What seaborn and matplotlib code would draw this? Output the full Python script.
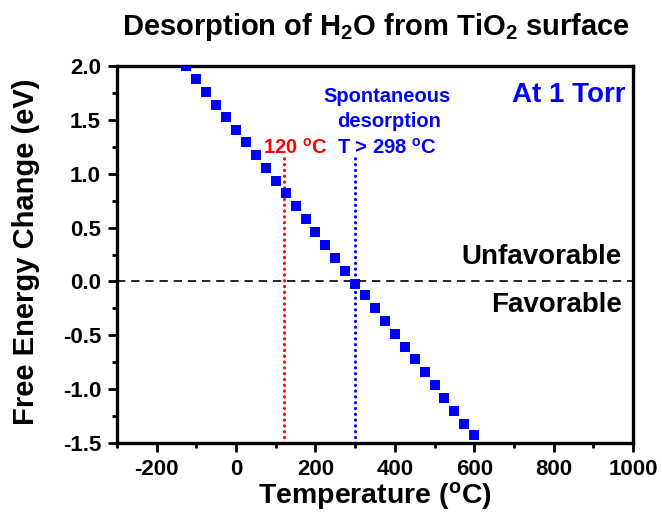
import numpy as np
import pandas as pd
import matplotlib
matplotlib.use("Agg")
import matplotlib.pyplot as plt
import seaborn as sns

# ---- data ----
temperature = [-125, -100, -75, -50, -25, 0, 25, 50, 75, 100,
               125, 150, 175, 200, 225, 250, 275, 300, 325, 350,
               375, 400, 425, 450, 475, 500, 525, 550, 575, 600]
free_energy = [2.00, 1.88, 1.76, 1.64, 1.53, 1.41, 1.29, 1.17, 1.05, 0.93,
               0.82, 0.70, 0.58, 0.46, 0.34, 0.22, 0.10, -0.02, -0.13, -0.25,
               -0.37, -0.49, -0.61, -0.72, -0.84, -0.96, -1.08, -1.20, -1.32, -1.43]
vline_temps = [120, 300]
vline_colors = ["#FF0000", "#0000FF"]
vline_top = 1.15
x_ticks = [-200, 0, 200, 400, 600, 800, 1000]
y_ticks = [-1.5, -1.0, -0.5, 0.0, 0.5, 1.0, 1.5, 2.0]
x_limits = (-300, 1000)
y_limits = (-1.5, 2.0)

df = pd.DataFrame({"T": temperature, "G": free_energy})

sns.set_style("ticks")
plt.rcParams["font.family"] = ["Liberation Sans", "DejaVu Sans"]
plt.rcParams["font.weight"] = "bold"
plt.rcParams["text.color"] = "black"
plt.rcParams["axes.labelcolor"] = "black"
plt.rcParams["xtick.color"] = "black"
plt.rcParams["ytick.color"] = "black"
plt.rcParams["mathtext.fontset"] = "custom"
plt.rcParams["mathtext.rm"] = "Liberation Sans:bold"
plt.rcParams["mathtext.bf"] = "Liberation Sans:bold"
plt.rcParams["mathtext.it"] = "Liberation Sans:bold"

fig = plt.figure(figsize=(6.62, 5.13), dpi=100)
ax = fig.add_axes([117/662, 1-443/513, 516/662, 377/513])

sns.scatterplot(data=df, x="T", y="G", marker="s", s=46, color="#0000FF",
                edgecolor="#0000FF", linewidth=0, ax=ax, zorder=3, legend=False)

ax.axhline(0, color="black", lw=1.2, ls=(0, (5, 3.5)), zorder=2)
for xv, c in zip(vline_temps, vline_colors):
    ax.plot([xv, xv], [y_limits[0], vline_top], color=c, lw=2.2, ls=(0, (0.1, 1.8)),
            dash_capstyle="round", zorder=2, clip_on=False)

ax.set_xlim(*x_limits)
ax.set_ylim(*y_limits)
ax.set_xticks(x_ticks)
ax.set_yticks(y_ticks)
ax.set_xticklabels([str(v) for v in x_ticks])
ax.set_yticklabels([f"{v:.1f}" for v in y_ticks])
ax.xaxis.set_minor_locator(matplotlib.ticker.MultipleLocator(100))
ax.yaxis.set_minor_locator(matplotlib.ticker.MultipleLocator(0.25))

for s in ax.spines.values():
    s.set_linewidth(2.4)
    s.set_color("black")
ax.tick_params(which="major", direction="out", length=6.5, width=2.0,
               labelsize=16, pad=5, color="black", labelcolor="black",
               top=False, right=False)
ax.tick_params(which="minor", direction="out", length=3.5, width=2.0,
               color="black", top=False, right=False)
for lab in ax.get_xticklabels() + ax.get_yticklabels():
    lab.set_fontweight("bold")

ax.set_xlabel(r"Temperature ($^\mathbf{o}$C)", fontsize=20.5, fontweight="bold")
ax.set_ylabel("Free Energy Change (eV)", fontsize=21, fontweight="bold")
ax.xaxis.set_label_coords(0.5, -0.097)
ax.yaxis.set_label_coords(-0.149, 0.508)

fig.text(0.568, 1-35/513, r"Desorption of H$_\mathbf{2}$O from TiO$_\mathbf{2}$ surface",
         ha="center", va="baseline", fontsize=21, fontweight="bold")

ax.text(148, 1.19, r"120 $^\mathbf{o}$C", color="#FF0000", ha="center", va="baseline",
        fontsize=14.5, fontweight="bold")
ax.text(381, 1.19, r"T > 298 $^\mathbf{o}$C", color="#0000FF", ha="center", va="baseline",
        fontsize=14.5, fontweight="bold")
ax.text(380, 1.67, "Spontaneous", color="#0000FF", ha="center", va="baseline",
        fontsize=14.5, fontweight="bold")
ax.text(386, 1.43, "desorption", color="#0000FF", ha="center", va="baseline",
        fontsize=14.5, fontweight="bold")
ax.text(980, 1.665, "At 1 Torr", color="#0000FF", ha="right", va="baseline",
        fontsize=20, fontweight="bold")
ax.text(972, 0.16, "Unfavorable", color="black", ha="right", va="baseline",
        fontsize=20, fontweight="bold")
ax.text(972, -0.284, "Favorable", color="black", ha="right", va="baseline",
        fontsize=20, fontweight="bold")

fig.savefig("out.png", dpi=100)
